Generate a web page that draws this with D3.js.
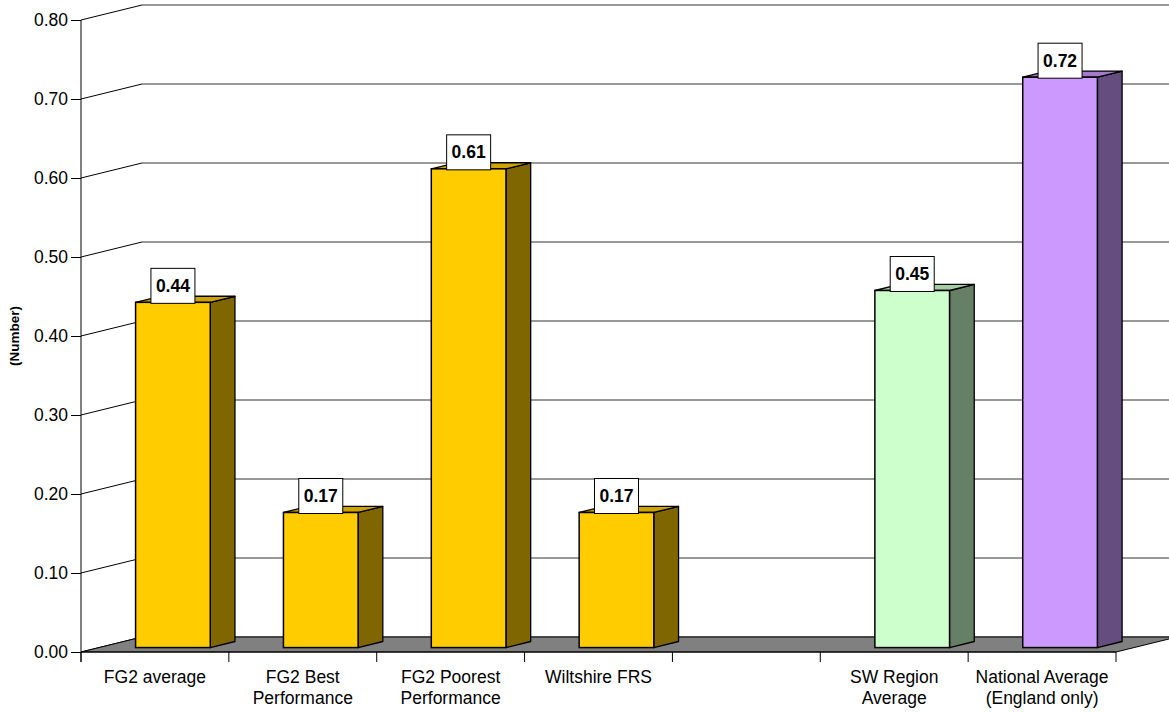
<!DOCTYPE html>
<html>
<head>
<meta charset="utf-8">
<script src="https://cdn.jsdelivr.net/npm/d3@7"></script>
<style>
  html, body { margin: 0; padding: 0; background: #fff; }
  svg { display: block; font-family: "Liberation Sans", Arial, sans-serif; }
</style>
</head>
<body>
<svg id="chart" width="1169" height="712"></svg>
<script>
// ---- data ----
const categories = ["FG2 average", "FG2 Best\nPerformance", "FG2 Poorest\nPerformance", "Wiltshire FRS", "", "SW Region\nAverage", "National Average\n(England only)"];
const values = [0.437, 0.171, 0.606, 0.171, null, 0.452, 0.722];
const yTicks = [0, 0.1, 0.2, 0.3, 0.4, 0.5, 0.6, 0.7, 0.8];
const yTitle = "(Number)";

// ---- styles ----
const palette = {
  gold:   { front: "#FFCC00", side: "#806600", top: "#CCA300" },
  green:  { front: "#CCFFCC", side: "#668066", top: "#A3CCA3" },
  purple: { front: "#CC99FF", side: "#664D80", top: "#A37ACC" }
};
const barStyle = ["gold", "gold", "gold", "gold", null, "green", "purple"];

const svg = d3.select("#chart");

const x = d3.scaleBand().domain(categories).range([81, 1116]).paddingInner(0).paddingOuter(0);
const y = d3.scaleLinear().domain([0, 0.8]).range([652, 20]);

// depth projection
const DX = 61, DY = -15;
const px = (xx, z) => xx + DX * z;
const py = (yy, z) => yy + DY * z;
const z1 = 0.295, z2 = 0.70;
const barW = x.bandwidth() * 0.505;

const gWall = svg.append("g");
yTicks.forEach(t => {
  gWall.append("line")
    .attr("x1", px(x.range()[0], 1)).attr("x2", px(x.range()[1], 1) + 20)
    .attr("y1", py(y(t), 1)).attr("y2", py(y(t), 1))
    .attr("stroke", "#333").attr("stroke-width", 1);
  gWall.append("line")
    .attr("x1", x.range()[0]).attr("y1", y(t))
    .attr("x2", px(x.range()[0], 1)).attr("y2", py(y(t), 1))
    .attr("stroke", "#000").attr("stroke-width", 1);
});

// floor
const x0 = x.range()[0], xN = x.range()[1];
svg.append("polygon")
  .attr("points", [[x0, y(0)], [xN, y(0)], [px(xN, 1), py(y(0), 1)], [px(x0, 1), py(y(0), 1)]].map(p => p.join(",")).join(" "))
  .attr("fill", "#808080").attr("stroke", "#000").attr("stroke-width", 1).attr("stroke-linejoin", "round");

// bars
const gBars = svg.append("g");
categories.forEach((c, i) => {
  const v = values[i];
  if (v == null) return;
  const col = palette[barStyle[i]];
  const cx = x(c) + x.bandwidth() / 2;
  const xl = px(cx - barW / 2, z1), xr = px(cx + barW / 2, z1);
  const yb = py(y(0), z1), yt = py(y(v), z1);
  const ddx = DX * (z2 - z1), ddy = DY * (z2 - z1);
  gBars.append("polygon")
    .attr("points", [[xr, yb], [xr + ddx, yb + ddy], [xr + ddx, yt + ddy], [xr, yt]].map(p => p.join(",")).join(" "))
    .attr("fill", col.side).attr("stroke", "#000").attr("stroke-width", 1.3).attr("stroke-linejoin", "round");
  gBars.append("polygon")
    .attr("points", [[xl, yt], [xr, yt], [xr + ddx, yt + ddy], [xl + ddx, yt + ddy]].map(p => p.join(",")).join(" "))
    .attr("fill", col.top).attr("stroke", "#000").attr("stroke-width", 1.3).attr("stroke-linejoin", "round");
  gBars.append("rect")
    .attr("x", xl).attr("y", yt).attr("width", xr - xl).attr("height", yb - yt)
    .attr("fill", col.front).attr("stroke", "#000").attr("stroke-width", 1.5);
});

// value labels
const fmt = d3.format(".2f");
const gLab = svg.append("g");
categories.forEach((c, i) => {
  const v = values[i];
  if (v == null) return;
  const cx = px(x(c) + x.bandwidth() / 2, z1);
  const yt = py(y(v), z1);
  const bw = 44, bh = 35;
  gLab.append("rect")
    .attr("x", cx - bw / 2).attr("y", yt + 1 - bh).attr("width", bw).attr("height", bh)
    .attr("fill", "#fff").attr("stroke", "#000").attr("stroke-width", 1);
  gLab.append("text")
    .attr("x", cx).attr("y", yt + 1 - bh / 2).attr("dy", "0.35em")
    .attr("text-anchor", "middle").attr("font-weight", "bold").attr("font-size", "17.5px")
    .attr("fill", "#000").text(fmt(v));
});

// y axis
const gY = svg.append("g").attr("transform", `translate(${x0},0)`);
gY.call(d3.axisLeft(y).tickValues(yTicks).tickFormat(d3.format(".2f")).tickSize(10).tickPadding(3));
gY.select(".domain").remove();
gY.append("line").attr("x1", 0).attr("x2", 0).attr("y1", y(0.8)).attr("y2", y(0) + 10).attr("stroke", "#000");
gY.selectAll(".tick text").attr("font-size", "17.5px").attr("font-family", "Liberation Sans, Arial, sans-serif").attr("fill", "#000");
gY.selectAll(".tick line").attr("stroke", "#000");

// x axis
const gX = svg.append("g").attr("transform", `translate(0,${y(0)})`);
gX.append("line").attr("x1", x0).attr("x2", xN).attr("y1", 0).attr("y2", 0).attr("stroke", "#000");
const bounds = categories.map(c => x(c)).concat([xN]);
bounds.forEach(b => {
  gX.append("line").attr("x1", b).attr("x2", b).attr("y1", 0).attr("y2", 10).attr("stroke", "#000");
});
categories.forEach(c => {
  const lines = c.split("\n");
  const t = gX.append("text")
    .attr("x", x(c) + x.bandwidth() / 2).attr("y", 31)
    .attr("text-anchor", "middle").attr("font-size", "17.5px").attr("fill", "#000");
  lines.forEach((ln, k) => {
    t.append("tspan").attr("x", x(c) + x.bandwidth() / 2).attr("dy", k === 0 ? 0 : 21).text(ln);
  });
});

// y title
svg.append("text")
  .attr("transform", `translate(19,${(y(0) + y(0.8)) / 2}) rotate(-90)`)
  .attr("text-anchor", "middle").attr("font-weight", "bold").attr("font-size", "13.5px")
  .attr("fill", "#000").text(yTitle);
</script>
</body>
</html>
